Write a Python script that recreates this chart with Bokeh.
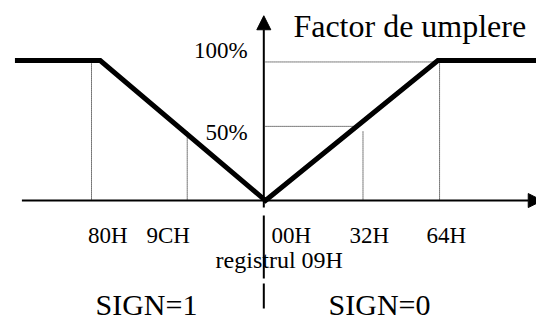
from bokeh.plotting import figure
from bokeh.models import Range1d, Arrow, NormalHead, Label
from bokeh.embed import file_html
from bokeh.resources import INLINE

# ---- data (register position vs. duty factor %) ----
curve_x = [-144, -95, 0, 99, 160]
curve_y = [100, 100, 0, 100, 100]

tick_labels = ["80H", "9CH", "00H", "32H", "64H"]
tick_x = [-100, -45, 0, 56, 100]
tick_level = [100, 50, 0, 50, 100]

level_labels = ["100%", "50%"]
level_values = [99, 53]
level_reach = [99, 52]

title = "Factor de umplere"
reg_label = "registrul 09H"
sign_labels = ["SIGN=1", "SIGN=0"]

FONT = "Liberation Serif"
DY = 5.4  # baseline correction for labels

p = figure(width=536, height=322,
           x_range=Range1d(-152.3, 155.7), y_range=Range1d(-87.1, 142.9),
           output_backend="svg", toolbar_location=None, min_border=0,
           x_axis_location=None, y_axis_location=None)
p.grid.visible = False
p.outline_line_color = None
p.background_fill_color = "white"
p.border_fill_color = "white"

# dotted guides (vertical)
for tx, lv, lab in zip(tick_x, tick_level, tick_labels):
    if lv > 0:
        p.line([tx, tx], [0, lv], line_color="black", line_width=1, line_dash="1 1")
# dotted guides (horizontal)
for lv, reach in zip(level_values, level_reach):
    p.line([0, reach], [lv, lv], line_color="black", line_width=1, line_dash="1 1")

# axes with arrows
p.add_layout(Arrow(end=NormalHead(size=14, fill_color="black", line_color="black"),
                   x_start=-140, y_start=0, x_end=159, y_end=0,
                   line_width=2, line_color="black"))
p.add_layout(Arrow(end=NormalHead(size=14, fill_color="black", line_color="black"),
                   x_start=-1, y_start=-5, x_end=-1, y_end=132,
                   line_width=2, line_color="black"))
# dashed separator
p.line([-1, -1], [-10.7, -77.1], line_color="black", line_width=2, line_dash="63 5")

# main curve
p.line(curve_x, curve_y, line_color="black", line_width=5, line_join="miter")

# texts
def lab(x, y, t, size, align="left"):
    p.add_layout(Label(x=x, y=y + DY, text=t, text_font=FONT, text_font_size=size,
                       text_align=align, text_baseline="alphabetic", text_color="black"))

lab(16.0, 119.5, title, "32px")
lab(-10.3, 102, level_labels[0], "23px", "right")
lab(-10.3, 43, level_labels[1], "23px", "right")

tick_text_x = [-102, -68.4, 3.4, 48.3, 92.5]
for tx, t in zip(tick_text_x, tick_labels):
    lab(tx, -30, t, "23px")

lab(-28.7, -47.9, reg_label, "24px")
lab(-97.7, -79.5, sign_labels[0], "30px")
lab(36.2, -79.5, sign_labels[1], "30px")

open("out.html", "w").write(file_html(p, INLINE))
